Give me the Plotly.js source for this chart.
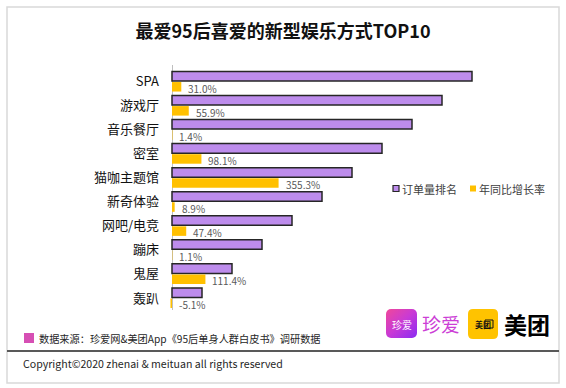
<!DOCTYPE html>
<html>
<head>
<meta charset="utf-8">
<script src="https://cdn.plot.ly/plotly-3.0.1.min.js"></script>
<style>html,body{margin:0;padding:0;background:#fff;}#chart{width:566px;height:388px;}</style>
</head>
<body>
<div id="chart"></div>
<script>
// ---- data ----
const categories = ["SPA","游戏厅","音乐餐厅","密室","猫咖主题馆","新奇体验","网吧/电竞","蹦床","鬼屋","轰趴"];
const orderRank = [10, 9, 8, 7, 6, 5, 4, 3, 2, 1];
const yoyGrowth = [0.310, 0.559, 0.014, 0.981, 3.553, 0.089, 0.474, 0.011, 1.114, -0.051];
const yoyLabels = ["31.0%","55.9%","1.4%","98.1%","355.3%","8.9%","47.4%","1.1%","111.4%","-5.1%"];
const seriesNames = ["订单量排名", "年同比增长率"];

// ---- layout helpers ----
const W = 566, H = 388;
const m = {l: 163, r: 19, t: 65, b: 78};
const pw = W - m.l - m.r, ph = H - m.t - m.b;
const X = p => (p - m.l) / pw;
const Y = p => 1 - (p - m.t) / ph;
const FONT = '"Noto Sans CJK SC", "Noto Sans", sans-serif';

const traces = [
  {type: 'bar', orientation: 'h', name: seriesNames[0], y: categories, x: orderRank,
   marker: {color: '#bd8cec', line: {color: '#262626', width: 1.5}}, showlegend: false, hoverinfo: 'none'},
  {type: 'bar', orientation: 'h', name: seriesNames[1], y: categories, x: yoyGrowth,
   marker: {color: '#ffc000', line: {width: 0}}, showlegend: false, hoverinfo: 'none'}
];

const annotations = yoyGrowth.map((v, i) => ({
  x: Math.max(v, 0), y: categories[i], xref: 'x', yref: 'y',
  text: yoyLabels[i], showarrow: false, xanchor: 'left', yanchor: 'middle',
  xshift: 5, yshift: -7, font: {family: FONT, size: 10, color: '#595959'}
}));

annotations.push(
  // legend (manual)
  {x: X(400), y: Y(188.5), xref: 'paper', yref: 'paper', text: seriesNames[0], showarrow: false,
   xanchor: 'left', yanchor: 'middle', font: {family: FONT, size: 11, color: '#404040'}},
  {x: X(477), y: Y(188.5), xref: 'paper', yref: 'paper', text: seriesNames[1], showarrow: false,
   xanchor: 'left', yanchor: 'middle', font: {family: FONT, size: 11, color: '#404040'}},
  // footer source
  {x: X(37), y: Y(338), xref: 'paper', yref: 'paper', text: '数据来源：珍爱网&美团App《95后单身人群白皮书》调研数据',
   showarrow: false, xanchor: 'left', yanchor: 'middle', font: {family: FONT, size: 10.2, color: '#262626'}},
  // copyright
  {x: X(21), y: Y(363), xref: 'paper', yref: 'paper', text: 'Copyright©2020 zhenai & meituan all rights reserved',
   showarrow: false, xanchor: 'left', yanchor: 'middle', font: {family: FONT, size: 10.6, color: '#262626'}},
  // logo texts
  {x: X(401.5), y: Y(324), xref: 'paper', yref: 'paper', text: '珍爱', showarrow: false,
   xanchor: 'center', yanchor: 'middle', font: {family: FONT, size: 10, color: '#ffffff'}},
  {x: X(441), y: Y(323.5), xref: 'paper', yref: 'paper', text: '珍爱', showarrow: false,
   xanchor: 'center', yanchor: 'middle', font: {family: FONT, size: 19, color: '#cc3fd6'}},
  {x: X(483), y: Y(324), xref: 'paper', yref: 'paper', text: '<b>美团</b>', showarrow: false,
   xanchor: 'center', yanchor: 'middle', font: {family: FONT, size: 8, color: '#111111'}},
  {x: X(527), y: Y(324), xref: 'paper', yref: 'paper', text: '<b>美团</b>', showarrow: false,
   xanchor: 'center', yanchor: 'middle', font: {family: FONT, size: 23, color: '#000000'}}
);

function rr(x0, y0, x1, y1, r) {
  const p = (x, y) => X(x) + ',' + Y(y);
  return 'M' + p(x0 + r, y0) + ' L' + p(x1 - r, y0) + ' Q' + p(x1, y0) + ' ' + p(x1, y0 + r) +
    ' L' + p(x1, y1 - r) + ' Q' + p(x1, y1) + ' ' + p(x1 - r, y1) +
    ' L' + p(x0 + r, y1) + ' Q' + p(x0, y1) + ' ' + p(x0, y1 - r) +
    ' L' + p(x0, y0 + r) + ' Q' + p(x0, y0) + ' ' + p(x0 + r, y0) + ' Z';
}

const shapes = [
  {type: 'rect', xref: 'paper', yref: 'paper', x0: X(7), x1: X(559), y0: Y(7), y1: Y(383),
   line: {color: '#d9d9d9', width: 1.5}, fillcolor: 'rgba(0,0,0,0)', layer: 'below'},
  {type: 'line', xref: 'paper', yref: 'paper', x0: X(7), x1: X(559), y0: Y(351), y1: Y(351),
   line: {color: '#595959', width: 2}},
  {type: 'rect', xref: 'paper', yref: 'paper', x0: X(393), x1: X(399), y0: Y(185.5), y1: Y(191.5),
   fillcolor: '#bd8cec', line: {color: '#262626', width: 1.2}},
  {type: 'rect', xref: 'paper', yref: 'paper', x0: X(470), x1: X(476), y0: Y(185.5), y1: Y(191.5),
   fillcolor: '#ffc000', line: {width: 0}},
  {type: 'rect', xref: 'paper', yref: 'paper', x0: X(24), x1: X(34), y0: Y(333), y1: Y(343),
   fillcolor: '#d64fb4', line: {width: 0}},
  {type: 'path', xref: 'paper', yref: 'paper', path: rr(468, 309, 498, 339, 5),
   fillcolor: '#ffc300', line: {width: 0}},
  {type: 'rect', xref: 'paper', yref: 'paper', x0: X(485), x1: X(493), y0: Y(320), y1: Y(328),
   fillcolor: 'rgba(0,0,0,0)', line: {color: '#111111', width: 1}}
];

const gradSvg = '<svg xmlns="http://www.w3.org/2000/svg" width="31" height="29"><defs>' +
  '<linearGradient id="g" x1="0" y1="0" x2="1" y2="1"><stop offset="0" stop-color="#f0489a"/>' +
  '<stop offset="0.5" stop-color="#c83ad6"/><stop offset="1" stop-color="#8a2cf2"/></linearGradient></defs>' +
  '<rect x="0" y="0" width="31" height="29" rx="5" ry="5" fill="url(#g)"/></svg>';

const layout = {
  width: W, height: H,
  margin: m,
  paper_bgcolor: '#ffffff', plot_bgcolor: '#ffffff',
  title: {text: '<b>最爱95后喜爱的新型娱乐方式TOP10</b>', x: 0.5, xref: 'container', xanchor: 'center',
          y: 1 - 32 / H, yref: 'container', yanchor: 'middle',
          font: {family: FONT, size: 18, color: '#111111'}},
  barmode: 'group', bargap: 0.12, bargroupgap: 0.1,
  xaxis: {range: [-0.3, 12.5], visible: true, showgrid: false, showticklabels: false, ticks: '',
          zeroline: true, zerolinecolor: '#bfbfbf', zerolinewidth: 1, showline: false, fixedrange: true},
  yaxis: {type: 'category', categoryorder: 'array', categoryarray: categories, autorange: 'reversed',
          showgrid: false, zeroline: false, showline: false, ticks: '', ticklabelstandoff: 3,
          tickfont: {family: FONT, size: 13, color: '#111111'}, fixedrange: true},
  images: [{source: 'data:image/svg+xml;charset=utf-8,' + encodeURIComponent(gradSvg),
            xref: 'paper', yref: 'paper', x: X(386), y: Y(309), sizex: 31 / pw, sizey: 29 / ph,
            xanchor: 'left', yanchor: 'top', sizing: 'stretch', layer: 'below'}],
  shapes: shapes,
  annotations: annotations,
  showlegend: false
};

Plotly.newPlot('chart', traces, layout, {staticPlot: true, displayModeBar: false});
</script>
</body>
</html>
